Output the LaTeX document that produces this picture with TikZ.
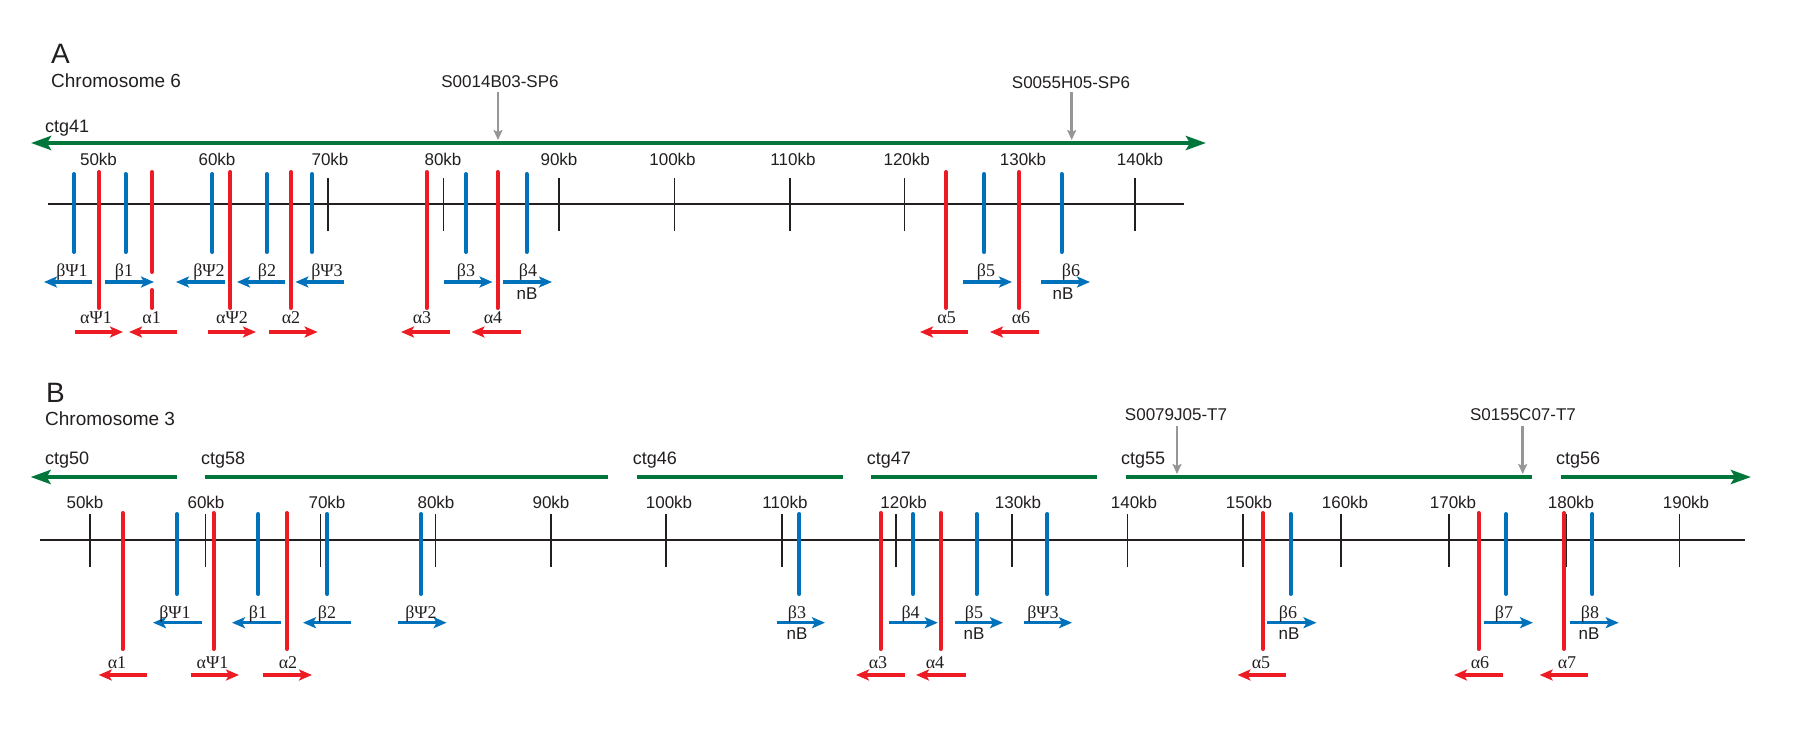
\documentclass[tikz,border=0pt]{standalone}
\usepackage{fontspec}
\setmainfont{Liberation Sans}
\newfontfamily\grk{Liberation Serif}
\usetikzlibrary{arrows.meta}
\definecolor{gred}{RGB}{237,28,36}
\definecolor{gblue}{RGB}{0,114,188}
\definecolor{ggreen}{RGB}{0,118,58}
\definecolor{ggray}{RGB}{150,150,150}
\definecolor{gblack}{RGB}{35,31,32}
\tikzset{
  bgene/.style={draw=gblue,line width=4pt,line cap=round},
  rgene/.style={draw=gred,line width=4pt,line cap=round},
  barr/.style={draw=gblue,line width=3.5pt,-{Stealth[length=13pt,width=11pt,inset=3pt]}},
  rarr/.style={draw=gred,line width=3.5pt,-{Stealth[length=13pt,width=11pt,inset=3pt]}},
  ctgline/.style={draw=ggreen,line width=4.5pt},
  ctgtip/.tip={Stealth[length=20pt,width=14pt,inset=4pt]},
  probe/.style={draw=ggray,line width=2.5pt,-{Stealth[length=10pt,width=9pt,inset=2pt]}},
  kbaxis/.style={draw=gblack,line width=1.6pt},
  kbtick/.style={draw=gblack,line width=1.7pt},
  kblab/.style={font=\fontsize{17}{20}\selectfont,anchor=base,inner sep=0pt,text=gblack},
  glab/.style={font=\grk\fontsize{18}{20}\selectfont,anchor=base,inner sep=0pt,text=gblack},
  ctglab/.style={font=\fontsize{18}{20}\selectfont,anchor=base west,inner sep=0pt,text=gblack},
  panlab/.style={font=\fontsize{28}{30}\selectfont,anchor=base west,inner sep=0pt,text=gblack},
  chrlab/.style={font=\fontsize{19}{22}\selectfont,anchor=base west,inner sep=0pt,text=gblack},
}
\begin{document}
\begin{tikzpicture}[x=1pt,y=-1pt]
\useasboundingbox[fill=white] (0,0) rectangle (1800,745);

%%%%%%%%%%%%%%%% Panel A
\node[panlab] (pA) at (51,63) {A};
\node[chrlab] (chrA) at (51,87) {Chromosome 6};
\node[ctglab] (ctg41) at (45,132) {ctg41};
\draw[ctgline,ctgtip-ctgtip] (31,143) -- (1206,143);
\node[kblab] (prA1) at (500,87) {S0014B03-SP6};
\node[kblab] (prA2) at (1071,88) {S0055H05-SP6};
\draw[probe] (498,92) -- (498,140);
\draw[probe] (1071.7,92) -- (1071.7,140);

\draw[kbaxis] (48,204) -- (1184,204);
\foreach \x in {328,443.5,559,674.5,790,904.5,1019.5,1135}
  \draw[kbtick] (\x,178) -- (\x,231);
\foreach \x/\t [count=\i] in {98.5/50,217/60,330/70,443/80,559/90,672.5/100,793/110,906.7/120,1023/130,1140/140}
  \node[kblab] (kA\i) at (\x,165) {\t kb};

\foreach \x in {74,125.5,212.4,266.7,312,466,526.6,984.3,1061.7}
  \draw[bgene] (\x,174) -- (\x,252);
\foreach \x in {99,230.4,290.9,426.7,497.5,946,1019.3}
  \draw[rgene] (\x,172) -- (\x,308);
\draw[rgene] (152,172) -- (152,272);
\draw[rgene] (152,290) -- (152,308);

\foreach \a/\b/\x/\t [count=\i] in {
   92/44/72/{βΨ1}, 104.5/154/124/{β1}, 224.6/176/209/{βΨ2}, 285/237/267/{β2},
   343.7/295.4/327/{βΨ3}, 444/492.5/466/{β3}, 503/552/528/{β4},
   963/1012/986/{β5}, 1041/1090/1071/{β6}}
{
  \draw[barr] (\a,282) -- (\b,282);
  \node[glab] (bA\i) at (\x,276) {\t};
}
\node[kblab] (nbA1) at (527,299) {nB};
\node[kblab] (nbA2) at (1063,299) {nB};

\foreach \a/\b/\x/\t [count=\i] in {
   74.6/123/96/{αΨ1}, 177/129/151.6/{α1}, 208/256/232/{αΨ2}, 269/317.6/291/{α2},
   449.7/401/422/{α3}, 520.5/471.5/493/{α4}, 968/920/946.7/{α5}, 1039/990/1021/{α6}}
{
  \draw[rarr] (\a,332) -- (\b,332);
  \node[glab] (aA\i) at (\x,323) {\t};
}

%%%%%%%%%%%%%%%% Panel B
\node[panlab] (pB) at (46,402) {B};
\node[chrlab] (chrB) at (45,425) {Chromosome 3};

\node[ctglab] (ctg50) at (45,464) {ctg50};
\node[ctglab] (ctg58) at (201,464) {ctg58};
\node[ctglab] (ctg46) at (632.6,464) {ctg46};
\node[ctglab] (ctg47) at (866.7,464) {ctg47};
\node[ctglab] (ctg55) at (1121,464) {ctg55};
\node[ctglab] (ctg56) at (1556,464) {ctg56};
\draw[ctgline,-ctgtip] (177,477) -- (30.6,477);
\draw[ctgline] (204.7,477) -- (607.7,477);
\draw[ctgline] (637,477) -- (843,477);
\draw[ctgline] (871.4,477) -- (1096.8,477);
\draw[ctgline] (1125.7,477) -- (1532,477);
\draw[ctgline,-ctgtip] (1561,477) -- (1751,477);

\node[kblab] (prB1) at (1176,420) {S0079J05-T7};
\node[kblab] (prB2) at (1523,420) {S0155C07-T7};
\draw[probe] (1177,426) -- (1177,474);
\draw[probe] (1522.7,426) -- (1522.7,474);

\draw[kbaxis] (40,540) -- (1745,540);
\foreach \x in {90,205.5,320.5,435.5,551,666.3,781.7,896.3,1011.8,1127.5,1243,1341,1449,1566,1679.5}
  \draw[kbtick] (\x,514) -- (\x,567);
\foreach \x/\t [count=\i] in {85/50,206/60,327/70,436/80,551/90,669/100,785/110,903.6/120,1018/130,1134/140,1249/150,1345/160,1453/170,1571/180,1686/190}
  \node[kblab] (kB\i) at (\x,508) {\t kb};

\foreach \x in {177,258.3,327.2,421,799.4,913,976.6,1047.4,1290.6,1506,1592.4}
  \draw[bgene] (\x,514) -- (\x,594);
\foreach \x in {122.5,213.5,287,880.5,940.6,1263,1478.5,1564}
  \draw[rgene] (\x,513) -- (\x,649);

\foreach \a/\b/\x/\t [count=\i] in {
   201.7/153/175/{βΨ1}, 281/232/258/{β1}, 351/303/327/{β2}, 398/446.6/421/{βΨ2},
   776.5/825/797/{β3}, 889/937.8/910.6/{β4}, 954.8/1003/974/{β5}, 1023.6/1072/1043/{βΨ3},
   1267.4/1316.5/1288/{β6}, 1484/1533/1504/{β7}, 1569.6/1618.7/1590/{β8}}
{
  \draw[barr] (\a,622.7) -- (\b,622.7);
  \node[glab] (bB\i) at (\x,618) {\t};
}
\node[kblab] (nbB1) at (797,639) {nB};
\node[kblab] (nbB2) at (974,639) {nB};
\node[kblab] (nbB3) at (1289,639) {nB};
\node[kblab] (nbB4) at (1589,639) {nB};

\foreach \a/\b/\x/\t [count=\i] in {
   147.3/98.7/117/{α1}, 190.6/239/212.6/{αΨ1}, 263.3/312/288/{α2},
   905/856/878/{α3}, 965.5/916/935/{α4}, 1286/1237.5/1261/{α5},
   1503/1454/1480/{α6}, 1588/1539.7/1567/{α7}}
{
  \draw[rarr] (\a,675) -- (\b,675);
  \node[glab] (aB\i) at (\x,668) {\t};
}
\end{tikzpicture}
\end{document}
